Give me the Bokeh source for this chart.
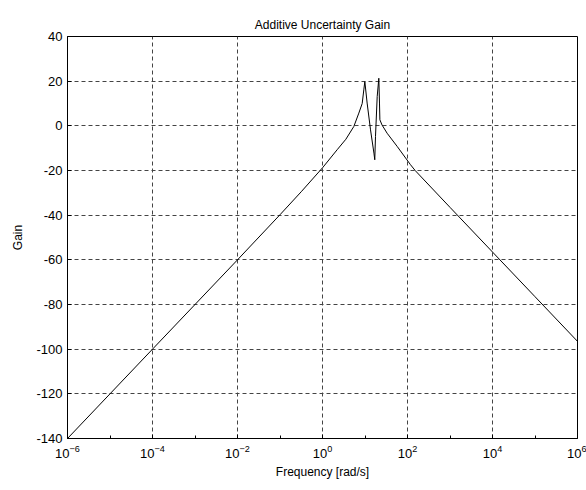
from bokeh.plotting import figure
from bokeh.models import FixedTicker, Range1d, PrintfTickFormatter
from bokeh.embed import file_html
from bokeh.resources import INLINE

# Data (log10 frequency, gain in dB)
log_freq = [-6.0, -5.0, -4.0, -3.0, -2.0, -1.0, -0.5, 0.0, 0.345, 0.55, 0.737,
            0.855, 0.934, 0.972, 0.996, 1.05, 1.13, 1.21, 1.23, 1.247, 1.287,
            1.325, 1.341, 1.35, 1.40, 1.52, 1.76, 2.07, 2.18, 3.0, 4.0, 5.0, 6.0]
gain_db = [-140.0, -120.0, -100.0, -80.0, -60.0, -39.8, -29.5, -18.8, -10.7, -6.0, -0.3,
           5.7, 10.0, 16.1, 19.8, 10.2, -1.8, -12.2, -15.2, -4.8, 13.1,
           21.3, 10.2, 2.7, 0.4, -3.3, -9.3, -17.4, -20.0, -36.5, -56.5, -76.5, -96.5]
freq = [10.0 ** v for v in log_freq]

x_major = [1e-6, 1e-4, 1e-2, 1e0, 1e2, 1e4, 1e6]
x_minor = [1e-5, 1e-3, 1e-1, 1e1, 1e3, 1e5]
y_major = [-140, -120, -100, -80, -60, -40, -20, 0, 20, 40]

FONT = "Liberation Sans"

p = figure(width=586, height=490, x_axis_type="log",
           x_range=Range1d(1e-6, 1e6), y_range=Range1d(-140, 40),
           output_backend="svg", toolbar_location=None,
           title="Additive Uncertainty Gain")
p.min_border_left = 67
p.min_border_right = 9
p.min_border_top = 36
p.min_border_bottom = 52
p.background_fill_color = "white"
p.border_fill_color = "white"
p.outline_line_color = "black"
p.outline_line_width = 1

p.title.align = "center"
p.title.text_font = FONT
p.title.text_font_style = "normal"
p.title.text_font_size = "12px"
p.title.text_color = "black"

p.line(freq, gain_db, line_color="black", line_width=1)

xa = p.xaxis[0]
xa.ticker = FixedTicker(ticks=x_major, minor_ticks=x_minor)
ya = p.yaxis[0]
ya.ticker = FixedTicker(ticks=y_major, minor_ticks=[])
ya.formatter = PrintfTickFormatter(format="%d")
for ax in (xa, ya):
    ax.major_tick_in = 4
    ax.major_tick_out = 0
    ax.minor_tick_in = 3
    ax.minor_tick_out = 0
    ax.axis_line_color = "black"
    ax.major_tick_line_color = "black"
    ax.minor_tick_line_color = "black"
    ax.major_label_text_font = FONT
    ax.major_label_text_font_size = "13px"
    ax.major_label_text_color = "black"
    ax.axis_label_text_font = FONT
    ax.axis_label_text_font_size = "12px"
    ax.axis_label_text_font_style = "normal"
    ax.axis_label_text_color = "black"

xa.axis_label = "Frequency [rad/s]"
xa.major_label_standoff = 6
xa.axis_label_standoff = 4
ya.axis_label = "Gain"
ya.major_label_standoff = 5
ya.axis_label_standoff = 8

for g in (p.xgrid[0], p.ygrid[0]):
    g.grid_line_color = "#444444"
    g.grid_line_dash = "4 3"
    g.grid_line_width = 1
p.xgrid[0].ticker = FixedTicker(ticks=x_major)
p.ygrid[0].ticker = FixedTicker(ticks=y_major)

open("out.html", "w").write(file_html(p, INLINE))
